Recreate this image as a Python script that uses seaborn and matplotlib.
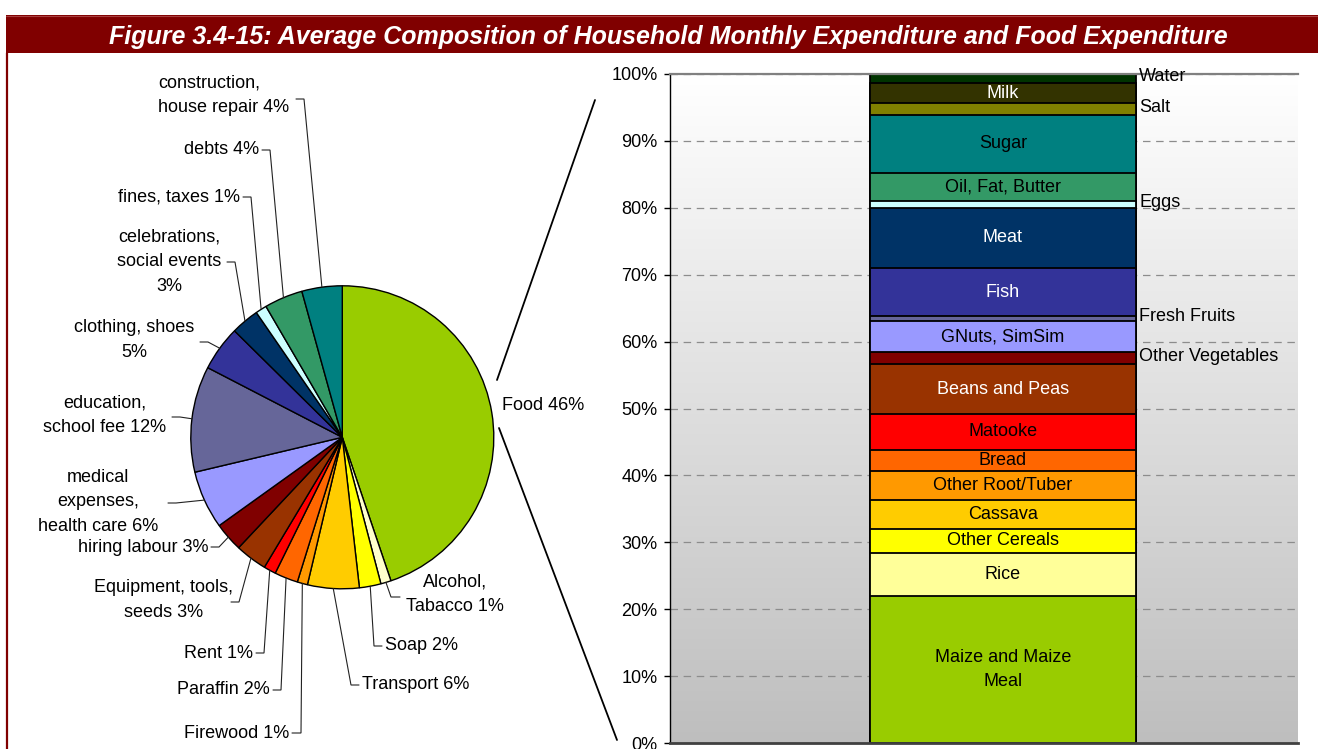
import numpy as np
import pandas as pd
import matplotlib.pyplot as plt
import seaborn as sns
from matplotlib.colors import LinearSegmentedColormap
from matplotlib.patches import Rectangle

# household expenditure (pie), clockwise from 12 o'clock
pie_items = ["Food", "Alcohol, Tabacco", "Soap", "Transport", "Firewood", "Paraffin", "Rent",
             "Equipment, tools, seeds", "hiring labour", "medical expenses, health care",
             "education, school fee", "clothing, shoes", "celebrations, social events",
             "fines, taxes", "debts", "construction, house repair"]
pie_values = [44.8, 1.1, 2.3, 5.5, 1.1, 2.5, 1.3, 3.4, 3.1, 6.2, 11.3, 4.8, 3.0, 1.2, 4.1, 4.3]
pie_labels = ["Food 46%", "Alcohol,\nTabacco 1%", "Soap 2%", "Transport 6%", "Firewood 1%",
              "Paraffin 2%", "Rent 1%", "Equipment, tools,\nseeds 3%", "hiring labour 3%",
              "medical\nexpenses,\nhealth care 6%", "education,\nschool fee 12%",
              "clothing, shoes\n5%", "celebrations,\nsocial events\n3%", "fines, taxes 1%",
              "debts 4%", "construction,\nhouse repair 4%"]
pie_colors = ["#99CC00", "#FFFFCC", "#FFFF00", "#FFCC00", "#FF9900", "#FF6600", "#FF0000",
              "#993300", "#800000", "#9999FF", "#666699", "#333399", "#003366", "#CCFFFF",
              "#339966", "#008080"]

# food expenditure (stacked bar), bottom to top
food_items = ["Maize and Maize Meal", "Rice", "Other Cereals", "Cassava", "Other Root/Tuber",
              "Bread", "Matooke", "Beans and Peas", "Other Vegetables", "GNuts, SimSim",
              "Fresh Fruits", "Fish", "Meat", "Eggs", "Oil, Fat, Butter", "Sugar", "Salt",
              "Milk", "Water"]
food_values = [22.0, 6.4, 3.6, 4.3, 4.4, 3.1, 5.4, 7.4, 1.8, 4.7, 0.7, 7.2, 9.0, 1.0, 4.2,
               8.7, 1.7, 3.1, 1.3]
food_colors = ["#99CC00", "#FFFF99", "#FFFF00", "#FFCC00", "#FF9900", "#FF6600", "#FF0000",
               "#993300", "#800000", "#9999FF", "#666699", "#333399", "#003366", "#CCFFFF",
               "#339966", "#008080", "#808000", "#333300", "#003300"]
food_inside = {"Maize and Maize Meal": "Maize and Maize\nMeal", "Rice": "Rice",
               "Other Cereals": "Other Cereals", "Cassava": "Cassava",
               "Other Root/Tuber": "Other Root/Tuber", "Bread": "Bread", "Matooke": "Matooke",
               "Beans and Peas": "Beans and Peas", "GNuts, SimSim": "GNuts, SimSim",
               "Fish": "Fish", "Meat": "Meat", "Oil, Fat, Butter": "Oil, Fat, Butter",
               "Sugar": "Sugar", "Milk": "Milk"}
food_outside = ["Other Vegetables", "Fresh Fruits", "Eggs", "Salt", "Water"]
white_text = ["Beans and Peas", "Fish", "Meat", "Milk"]

title = "Figure 3.4-15: Average Composition of Household Monthly Expenditure and Food Expenditure"

W, H = 1318, 749
sns.set_theme(style="white")
plt.rcParams['font.family'] = ['Liberation Sans', 'DejaVu Sans']
plt.rcParams['text.color'] = 'black'
FS = 13
LSP = 1.6

fig = plt.figure(figsize=(W / 100, H / 100), dpi=100)
fig.patch.set_facecolor('white')

# ---- pie ----
PIE_CX, PIE_CY, PIE_R = 342.3, 437.3, 151.5
ax_pie = fig.add_axes([(PIE_CX - PIE_R) / W, 1 - (PIE_CY + PIE_R) / H, 2 * PIE_R / W, 2 * PIE_R / H])
wedges, _ = ax_pie.pie(pie_values, colors=pie_colors, startangle=90, counterclock=False,
                       wedgeprops=dict(edgecolor='black', linewidth=1))
ax_pie.set_xlim(-1, 1)
ax_pie.set_ylim(-1, 1)
ax_pie.axis('off')


def px2pie(px, py):
    return (px - PIE_CX) / PIE_R, (PIE_CY - py) / PIE_R


# label layout in pixels: text x, text y, ha, leader start x, leader y, elbow x
pie_layout = [
    (502, 406, 'left', None, None, None),
    (455, 594, 'center', 400, 597, 391),
    (385, 646, 'left', 382, 646, 374),
    (362, 685, 'left', 359, 685, 351),
    (289, 733, 'right', 292, 733, 301),
    (270, 690, 'right', 273, 690, 281),
    (253, 653, 'right', 256, 653, 264),
    (164, 600, 'center', 231, 602, 239),
    (208, 547, 'right', 211, 547, 219),
    (98, 502, 'center', 168, 503, 176),
    (105, 415, 'center', 172, 417, 180),
    (134, 340, 'center', 200, 342, 208),
    (169, 262, 'center', 227, 262, 235),
    (240, 197, 'right', 243, 197, 251),
    (259, 150, 'right', 262, 150, 270),
    (158, 95, 'left', 296, 99, 304),
]

for w, lab, (tx, ty, ha, lx, ly, ex) in zip(wedges, pie_labels, pie_layout):
    x, y = px2pie(tx, ty)
    ax_pie.text(x, y, lab, ha=ha, va='center', multialignment='left' if ha == 'left' else 'center',
                fontsize=FS, linespacing=LSP, clip_on=False)
    if lx is None:
        continue
    mid = np.deg2rad((w.theta1 + w.theta2) / 2)
    x0, y0 = px2pie(lx, ly)
    x1, y1 = px2pie(ex, ly)
    ax_pie.plot([x0, x1, np.cos(mid)], [y0, y1, np.sin(mid)], color='#222222', lw=0.8,
                clip_on=False, solid_joinstyle='miter')

# ---- stacked bar ----
BAR_L, BAR_R, BAR_T, BAR_B = 670, 1298, 74, 743
ax_bar = fig.add_axes([BAR_L / W, 1 - BAR_B / H, (BAR_R - BAR_L) / W, (BAR_B - BAR_T) / H])
bar_w = 0.4236
x0, x1 = -0.530, 0.470

tops = np.cumsum(food_values)
df = pd.DataFrame({"pos": ["food"] * len(food_items), "top": tops, "item": food_items})
order = food_items[::-1]
sns.barplot(data=df, x="pos", y="top", hue="item", hue_order=order,
            palette=dict(zip(food_items, food_colors)), dodge=False, width=bar_w,
            edgecolor='black', linewidth=1.3, saturation=1, errorbar=None, legend=False, ax=ax_bar)

grad = np.linspace(0, 1, 256).reshape(-1, 1)
cm = LinearSegmentedColormap.from_list("bg", ["#bebebe", "#ffffff"])
ax_bar.imshow(grad, cmap=cm, aspect='auto', extent=(x0, x1, 0, 100), origin='lower', zorder=0)
ax_bar.set_xlim(x0, x1)
ax_bar.set_ylim(0, 100)
ax_bar.set_axisbelow(True)
ax_bar.yaxis.grid(True, linestyle=(0, (6, 4.5)), color='#8c8c8c', lw=0.9)
ax_bar.set_xlabel("")
ax_bar.set_ylabel("")
ax_bar.set_xticks([])
ax_bar.set_yticks(range(0, 101, 10))
ax_bar.set_yticklabels([f"{v}%" for v in range(0, 101, 10)])
ax_bar.tick_params(axis='y', direction='out', left=True, length=4, width=1, color='black',
                   pad=5, labelsize=FS, labelcolor='black')
ax_bar.spines['right'].set_visible(False)
ax_bar.spines['left'].set_color('black')
ax_bar.spines['left'].set_linewidth(1)
ax_bar.spines['bottom'].set_color('#404040')
ax_bar.spines['bottom'].set_linewidth(2)
ax_bar.spines['top'].set_color('#808080')
ax_bar.spines['top'].set_linewidth(1.6)

bottoms = tops - np.array(food_values)
for name, b, v in zip(food_items, bottoms, food_values):
    mid = b + v / 2
    if name in food_inside:
        ax_bar.text(0, mid, food_inside[name], ha='center', va='center', fontsize=FS,
                    linespacing=LSP, color='white' if name in white_text else 'black', zorder=5)
    elif name in food_outside:
        ax_bar.annotate(name, xy=(bar_w / 2, mid), xytext=(2.5, 1.5), textcoords='offset points',
                        ha='left', va='center', fontsize=FS, color='black', zorder=5,
                        annotation_clip=False)

# ---- overlay: title bar, frame, connectors ----
ov = fig.add_axes([0, 0, 1, 1], zorder=3)
ov.set_xlim(0, W)
ov.set_ylim(H, 0)
ov.axis('off')
ov.add_patch(Rectangle((6, 15), W - 6, 38, facecolor='#800000', edgecolor='none'))
ov.plot([6, W], [16, 16], color='#a84040', lw=0.8)
ov.plot([7, 7], [53, H], color='#800000', lw=1.6)
ov.text(668, 37, title, color='white', fontsize=18, fontweight='bold', fontstyle='italic',
        ha='center', va='center')
ov.plot([497, 595], [380, 100], color='black', lw=1.3)
ov.plot([499, 617], [428, 740], color='black', lw=1.3)

fig.savefig("out.png", dpi=100)
